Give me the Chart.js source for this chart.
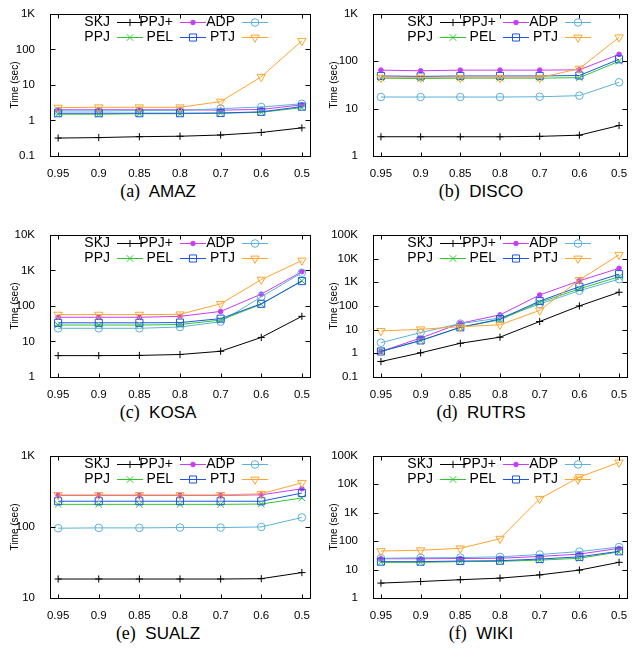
<!DOCTYPE html>
<html><head><meta charset="utf-8">
<script src="https://cdn.jsdelivr.net/npm/chart.js@4.4.0/dist/chart.umd.min.js"></script>
<style>
html,body{margin:0;padding:0;background:#fff;}
body{width:633px;height:650px;position:relative;overflow:hidden;}
canvas{position:absolute;}
.cap{position:absolute;width:240px;text-align:center;white-space:pre;color:#000;line-height:20px;}
.cap .t{font-family:"Liberation Serif";font-size:18px;}
.cap .s{font-family:"Liberation Sans";font-size:17px;}
</style></head><body>
<script>
// ---- data ----
const thresholds = ['0.95','0.9','0.85','0.8','0.7','0.6','0.5'];
const methods = ['SKJ','PPJ+','ADP','PPJ','PEL','PTJ'];

const amaz = {
  'SKJ':  [0.32,0.33,0.35,0.36,0.39,0.46,0.62],
  'PPJ+': [2.0,2.0,2.0,2.0,1.95,2.05,2.75],
  'ADP':  [1.85,1.85,1.9,1.9,2.15,2.4,2.95],
  'PPJ':  [1.5,1.5,1.55,1.55,1.6,1.7,2.3],
  'PEL':  [1.6,1.6,1.6,1.6,1.62,1.75,2.45],
  'PTJ':  [2.3,2.35,2.35,2.35,3.4,17,175]
};
const disco = {
  'SKJ':  [2.55,2.55,2.55,2.55,2.6,2.75,4.4],
  'PPJ+': [65,63,65,65,65,66,140],
  'ADP':  [17.6,17.6,17.6,17.6,17.8,18.8,36],
  'PPJ':  [44,43,44,44,44,45,100],
  'PEL':  [49,48,49,49,49,50,110],
  'PTJ':  [45,45,45,45,45,70,320]
};
const kosa = {
  'SKJ':  [4.0,4.0,4.05,4.3,5.3,13,51],
  'PPJ+': [48,48,48,51,70,215,920],
  'ADP':  [23.5,23.5,23.5,25.5,36,180,860],
  'PPJ':  [29,29,29,30,40,112,510],
  'PEL':  [33.5,33.5,33.5,34,44,115,500],
  'PTJ':  [57,57,57,58,115,550,1900]
};
const rutrs = {
  'SKJ':  [0.45,1.05,2.65,4.8,22,100,380],
  'PPJ+': [1.2,4.4,18.5,42,290,1150,3900],
  'ADP':  [2.8,7.5,18,31,120,440,1350],
  'PPJ':  [1.2,3.4,12.5,26,140,530,1700],
  'PEL':  [1.2,3.5,12.5,28,160,650,2200],
  'PTJ':  [8.8,10.3,13.3,16,65,1250,14500]
};
const sualz = {
  'SKJ':  [18.5,18.5,18.5,18.5,18.5,18.7,22.8],
  'PPJ+': [278,278,278,278,278,283,345],
  'ADP':  [96,97,97,98,98,100,136],
  'PPJ':  [208,208,208,208,208,210,256],
  'PEL':  [230,230,230,230,230,230,300],
  'PTJ':  [282,282,282,282,282,293,418]
};
const wiki = {
  'SKJ':  [3.35,3.8,4.4,5.0,6.5,9.6,18],
  'PPJ+': [24,24,24.5,25,29,35,56],
  'ADP':  [25,26,26.5,28,34,43,62],
  'PPJ':  [18,18,19,19.5,21.5,25,42],
  'PEL':  [19,19,20,20.5,23.5,28,44],
  'PTJ':  [45,48,56,122,3100,18000,59000]
};

const panels = [
  {tag:'(a)', name:'AMAZ',  data:amaz,  min:0.1, max:1e3, col:0, row:0},
  {tag:'(b)', name:'DISCO', data:disco, min:1,   max:1e3, col:1, row:0},
  {tag:'(c)', name:'KOSA',  data:kosa,  min:1,   max:1e4, col:0, row:1},
  {tag:'(d)', name:'RUTRS', data:rutrs, min:0.1, max:1e5, col:1, row:1},
  {tag:'(e)', name:'SUALZ', data:sualz, min:10,  max:1e3, col:0, row:2},
  {tag:'(f)', name:'WIKI',  data:wiki,  min:1,   max:1e5, col:1, row:2}
];

// ---- styles ----
const styles = {
  'SKJ':  {color:'#000000', pointStyle:'cross',    radius:3.6, fill:false, rot:0},
  'PPJ+': {color:'#c83cf5', pointStyle:'circle',   radius:2.3, fill:true,  rot:0},
  'ADP':  {color:'#5cb2d8', pointStyle:'circle',   radius:3.8, fill:false, rot:0},
  'PPJ':  {color:'#2ec82e', pointStyle:'crossRot', radius:4.6, fill:false, rot:0},
  'PEL':  {color:'#1f55e6', pointStyle:'rect',     radius:5.0, fill:false, rot:0},
  'PTJ':  {color:'#ffa42e', pointStyle:'triangle', radius:4.8, fill:false, rot:180}
};
const FONT = 'Liberation Sans';
const legendRows = [['SKJ','PPJ+','ADP'],['PPJ','PEL','PTJ']];
const legTextRight = [60,123,185];
const legSampleStart = [67,130,192];
const legSampleLen = 26;
const legRowY = [8,23];

function fmt(v){ return v >= 1000 ? (v/1000)+'K' : String(v); }

const framePlugin = {
  id:'frame',
  afterDraw(chart){
    const {ctx, chartArea:a, scales:{x,y}} = chart;
    const o = chart.options.plugins.frame;
    ctx.save();
    ctx.strokeStyle = '#000'; ctx.lineWidth = 1;
    const L = Math.round(a.left)+0.5, T = Math.round(a.top)+0.5, R = Math.round(a.right)+0.5, B = Math.round(a.bottom)+0.5;
    ctx.strokeRect(L, T, R-L, B-T);
    ctx.beginPath();
    x.ticks.forEach(t => {
      const px = Math.round(x.getPixelForValue(t.value))+0.5;
      ctx.moveTo(px,B); ctx.lineTo(px,B-4);
      ctx.moveTo(px,T); ctx.lineTo(px,T+4);
    });
    y.ticks.forEach(t => {
      const py = Math.round(y.getPixelForValue(t.value))+0.5;
      ctx.moveTo(L,py); ctx.lineTo(L+5,py);
      ctx.moveTo(R,py); ctx.lineTo(R-5,py);
    });
    ctx.stroke();
    // y title
    ctx.save();
    ctx.font = '10px "'+FONT+'"'; ctx.fillStyle = '#000';
    ctx.textAlign = 'center'; ctx.textBaseline = 'middle';
    ctx.translate(a.left - o.titleOffset, (a.top+a.bottom)/2);
    ctx.rotate(-Math.PI/2);
    ctx.fillText('Time (sec)', 0, 0);
    ctx.restore();
    // legend
    ctx.font = '14px "'+FONT+'"';
    ctx.textAlign = 'right'; ctx.textBaseline = 'middle';
    legendRows.forEach((row, ri) => {
      const yy = a.top + legRowY[ri];
      row.forEach((m, ci) => {
        const s = styles[m];
        ctx.fillStyle = '#000';
        ctx.fillText(m, a.left + legTextRight[ci], yy+0.5);
        const x0 = a.left + legSampleStart[ci];
        ctx.strokeStyle = s.color; ctx.lineWidth = 1;
        ctx.beginPath(); ctx.moveTo(x0, Math.round(yy)+0.5); ctx.lineTo(x0+legSampleLen, Math.round(yy)+0.5); ctx.stroke();
        ctx.fillStyle = s.fill ? s.color : 'rgba(0,0,0,0)';
        Chart.helpers.drawPoint(ctx, {pointStyle:s.pointStyle, radius:s.radius, rotation:s.rot, borderWidth:1}, x0+legSampleLen/2, Math.round(yy)+0.5);
      });
    });
    ctx.restore();
  }
};

panels.forEach(p => {
  const W = p.col === 0 ? 316 : 317;
  const H = 180;
  const yW = p.col === 0 ? 50 : 57;
  const rightPad = p.col === 0 ? 6 : 2;
  const cv = document.createElement('canvas');
  cv.width = W; cv.height = H;
  cv.style.left = (p.col*316)+'px';
  cv.style.top = (p.row*221)+'px';
  cv.style.width = W+'px'; cv.style.height = H+'px';
  document.body.appendChild(cv);

  const cap = document.createElement('div');
  cap.className = 'cap';
  cap.style.left = (p.col === 0 ? 158-120 : 481-120)+'px';
  cap.style.top = (181 + p.row*221)+'px';
  cap.innerHTML = '<span class="t">'+p.tag+'</span><span class="s">  '+p.name+'</span>';
  document.body.appendChild(cap);

  const datasets = methods.map((m, i) => {
    const s = styles[m];
    return {
      label: m,
      data: p.data[m].map((v, j) => ({x:j, y:v})),
      borderColor: s.color,
      backgroundColor: s.color,
      borderWidth: 1,
      pointStyle: s.pointStyle,
      pointRadius: s.radius,
      pointRotation: s.rot,
      pointBorderColor: s.color,
      pointBackgroundColor: s.fill ? s.color : 'rgba(0,0,0,0)',
      pointBorderWidth: 1,
      pointHoverRadius: s.radius,
      tension: 0,
      fill: false,
      clip: false,
      order: methods.length - i
    };
  });

  new Chart(cv, {
    type: 'line',
    data: {datasets},
    options: {
      responsive: false,
      animation: false,
      devicePixelRatio: 1,
      events: [],
      layout: {padding: {top:10, right:rightPad, left:0, bottom:0}},
      plugins: {
        legend: {display:false},
        tooltip: {enabled:false},
        frame: {titleOffset: p.col === 0 ? 35 : 39}
      },
      scales: {
        x: {
          type: 'linear', min: -0.2, max: 6.2,
          afterBuildTicks: s => { s.ticks = thresholds.map((_, i) => ({value:i})); },
          afterFit: s => { s.height = H - 156; },
          ticks: {
            callback: v => thresholds[v],
            font: {family: FONT, size: 11.5}, color: '#000',
            padding: 3, autoSkip: false, maxRotation: 0
          },
          grid: {display:false}, border: {display:false}
        },
        y: {
          type: 'logarithmic', min: p.min, max: p.max,
          afterBuildTicks: s => {
            const out = [];
            const e0 = Math.round(Math.log10(p.min)), e1 = Math.round(Math.log10(p.max));
            for (let e = e0; e <= e1; e++) out.push({value: Number(Math.pow(10, e).toPrecision(1))});
            s.ticks = out;
          },
          afterFit: s => { s.width = yW; },
          ticks: {
            callback: v => fmt(v),
            font: {family: FONT, size: 11.5}, color: '#000', padding: 7
          },
          grid: {display:false}, border: {display:false}
        }
      }
    },
    plugins: [framePlugin]
  });
});
</script>
</body></html>
